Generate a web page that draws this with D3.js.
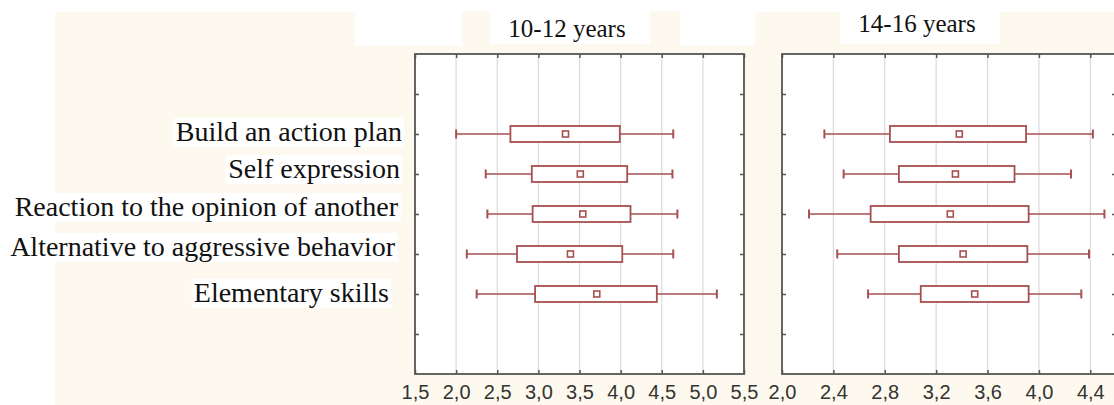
<!DOCTYPE html>
<html>
<head>
<meta charset="utf-8">
<script src="https://cdn.jsdelivr.net/npm/d3@7"></script>
<style>
  html, body { margin: 0; padding: 0; background: #ffffff; }
  svg { display: block; }
</style>
</head>
<body>
<svg id="chart" width="1114" height="405"></svg>
<script>
// ---- data ----
const categories = [
  "Build an action plan",
  "Self expression",
  "Reaction to the opinion of another",
  "Alternative to aggressive behavior",
  "Elementary skills"
];
const groupTitles = ["10-12 years", "14-16 years"];

const youngMin  = [2.00, 2.36, 2.38, 2.13, 2.25];
const youngQ1   = [2.66, 2.92, 2.93, 2.74, 2.96];
const youngMean = [3.33, 3.51, 3.54, 3.39, 3.71];
const youngQ3   = [3.99, 4.08, 4.12, 4.02, 4.44];
const youngMax  = [4.64, 4.63, 4.69, 4.64, 5.17];

const oldMin  = [2.33, 2.48, 2.21, 2.43, 2.67];
const oldQ1   = [2.84, 2.91, 2.69, 2.91, 3.08];
const oldMean = [3.38, 3.35, 3.31, 3.41, 3.50];
const oldQ3   = [3.90, 3.81, 3.92, 3.91, 3.92];
const oldMax  = [4.42, 4.25, 4.51, 4.39, 4.33];

const youngTicks = [1.5, 2.0, 2.5, 3.0, 3.5, 4.0, 4.5, 5.0, 5.5];
const oldTicks   = [2.0, 2.4, 2.8, 3.2, 3.6, 4.0, 4.4];

// ---- layout ----
const svg = d3.select("#chart");
const plotTop = 54, plotBottom = 374;
const boxColor = "#a84f50";
const frameColor = "#555555";
const cream = "#fef9ee";
// small per-label nudges of the pasted label images (layout only)
const labelRight = [402, 400, 398, 395, 389];
const labelDy = [7, 4, 2, 2, 8];

// background collage
svg.append("rect").attr("x", 55).attr("y", 12).attr("width", 1059).attr("height", 393).attr("fill", cream);
svg.append("rect").attr("x", 0).attr("y", 0).attr("width", 1114).attr("height", 11).attr("fill", "#fff");
svg.append("rect").attr("x", 355).attr("y", 0).attr("width", 400).attr("height", 46).attr("fill", "#fff");
svg.append("rect").attr("x", 462).attr("y", 11).attr("width", 218).attr("height", 36).attr("fill", cream);
svg.append("rect").attr("x", 490).attr("y", 11).attr("width", 160).attr("height", 33).attr("fill", "#fff");
svg.append("rect").attr("x", 840).attr("y", 0).attr("width", 160).attr("height", 44).attr("fill", "#fff");

const yKeys = ["_top", ...categories, "_bottom"];
const y = d3.scalePoint().domain(yKeys).range([plotTop, plotBottom]).padding(1);

const fmt = v => d3.format(".1f")(v).replace(".", ",");

const panels = [
  { title: groupTitles[0], domain: [1.5, 5.5], range: [415, 744], ticks: youngTicks,
    mn: youngMin, q1: youngQ1, mean: youngMean, q3: youngQ3, mx: youngMax, titleX: 567, titleY: 37 },
  { title: groupTitles[1], domain: [2.0, 4.6], range: [782, 1116], ticks: oldTicks,
    mn: oldMin, q1: oldQ1, mean: oldMean, q3: oldQ3, mx: oldMax, titleX: 917, titleY: 32 }
];

panels.forEach(p => {
  const x = d3.scaleLinear().domain(p.domain).range(p.range);
  const g = svg.append("g");
  const [x0, x1] = p.range;

  // plot background
  g.append("rect").attr("x", x0).attr("y", plotTop).attr("width", x1 - x0).attr("height", plotBottom - plotTop).attr("fill", "#fff");

  // gridlines
  g.selectAll("line.grid").data(p.ticks.filter(t => x(t) > x0 + 1 && x(t) < x1 - 1)).join("line")
    .attr("class", "grid")
    .attr("x1", d => x(d)).attr("x2", d => x(d))
    .attr("y1", plotTop).attr("y2", plotBottom)
    .attr("stroke", "#dadada").attr("stroke-width", 1.2);

  // axes with inward ticks
  const axB = d3.axisBottom(x).tickValues(p.ticks).tickSize(-4).tickFormat(fmt).tickPadding(11);
  const axT = d3.axisTop(x).tickValues(p.ticks).tickSize(-4).tickFormat("");
  const axL = d3.axisLeft(y).tickValues(yKeys).tickSize(-4).tickFormat("");
  const axR = d3.axisRight(y).tickValues(yKeys).tickSize(-4).tickFormat("");

  const gb = g.append("g").attr("transform", `translate(0,${plotBottom})`).call(axB);
  const gt = g.append("g").attr("transform", `translate(0,${plotTop})`).call(axT);
  const gl = g.append("g").attr("transform", `translate(${x0},0)`).call(axL);
  const gr = g.append("g").attr("transform", `translate(${x1},0)`).call(axR);
  [gb, gt, gl, gr].forEach(a => {
    a.select(".domain").remove();
    a.selectAll(".tick line").attr("stroke", frameColor).attr("stroke-width", 1.5);
  });
  gb.selectAll(".tick text")
    .attr("font-family", "'Liberation Sans Narrow', 'Liberation Sans', Arial, sans-serif")
    .attr("font-size", 20).attr("fill", "#333");

  // frame
  g.append("rect").attr("x", x0).attr("y", plotTop).attr("width", x1 - x0).attr("height", plotBottom - plotTop)
    .attr("fill", "none").attr("stroke", frameColor).attr("stroke-width", 1.8);

  // boxes
  const rows = categories.map((c, i) => ({ c, mn: p.mn[i], q1: p.q1[i], mean: p.mean[i], q3: p.q3[i], mx: p.mx[i] }));
  const bh = 16, cap = 9, ms = 6;
  const rg = g.selectAll("g.row").data(rows).join("g").attr("class", "row");
  rg.append("line").attr("x1", d => x(d.mn)).attr("x2", d => x(d.q1))
    .attr("y1", d => y(d.c)).attr("y2", d => y(d.c)).attr("stroke", boxColor).attr("stroke-width", 1.6);
  rg.append("line").attr("x1", d => x(d.q3)).attr("x2", d => x(d.mx))
    .attr("y1", d => y(d.c)).attr("y2", d => y(d.c)).attr("stroke", boxColor).attr("stroke-width", 1.6);
  rg.append("line").attr("x1", d => x(d.mn)).attr("x2", d => x(d.mn))
    .attr("y1", d => y(d.c) - cap / 2).attr("y2", d => y(d.c) + cap / 2).attr("stroke", boxColor).attr("stroke-width", 2);
  rg.append("line").attr("x1", d => x(d.mx)).attr("x2", d => x(d.mx))
    .attr("y1", d => y(d.c) - cap / 2).attr("y2", d => y(d.c) + cap / 2).attr("stroke", boxColor).attr("stroke-width", 2);
  rg.append("rect").attr("x", d => x(d.q1)).attr("y", d => y(d.c) - bh / 2)
    .attr("width", d => x(d.q3) - x(d.q1)).attr("height", bh)
    .attr("fill", "#fff").attr("stroke", boxColor).attr("stroke-width", 1.8);
  rg.append("rect").attr("x", d => x(d.mean) - ms / 2).attr("y", d => y(d.c) - ms / 2)
    .attr("width", ms).attr("height", ms)
    .attr("fill", "#fff").attr("stroke", boxColor).attr("stroke-width", 1.6);

  // title
  svg.append("text").attr("x", p.titleX).attr("y", p.titleY).attr("text-anchor", "middle")
    .attr("font-family", "'Liberation Serif', 'Times New Roman', serif").attr("font-size", 25)
    .attr("fill", "#111").text(p.title);
});

// category labels (left)
const lg = svg.append("g");
const labels = lg.selectAll("text.cat").data(categories).join("text")
  .attr("class", "cat")
  .attr("x", (d, i) => labelRight[i]).attr("y", (d, i) => y(d) + labelDy[i])
  .attr("text-anchor", "end")
  .attr("font-family", "'Liberation Serif', 'Times New Roman', serif")
  .attr("font-size", 28).attr("fill", "#111")
  .text(d => d);
// white highlight behind each label
labels.each(function () {
  const b = this.getBBox();
  lg.insert("rect", "text").attr("x", b.x - 2).attr("y", b.y + 2).attr("width", b.width + 4).attr("height", b.height - 2).attr("fill", "#fff");
});
</script>
</body>
</html>
